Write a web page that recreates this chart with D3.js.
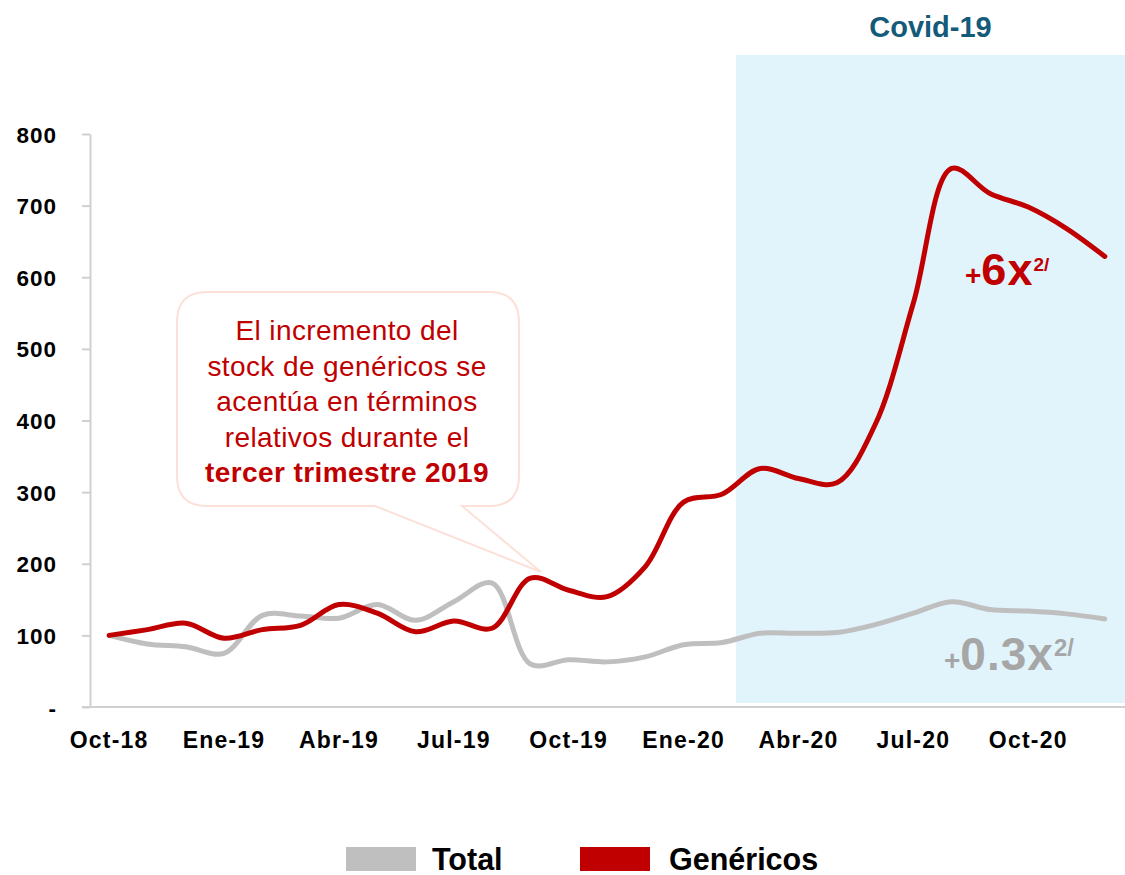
<!DOCTYPE html>
<html>
<head>
<meta charset="utf-8">
<script src="https://cdn.jsdelivr.net/npm/d3@7/dist/d3.min.js"></script>
<style>
  html, body { margin: 0; padding: 0; background: #ffffff; }
  svg { display: block; font-family: "Liberation Sans", Arial, sans-serif; }
</style>
</head>
<body>
<svg id="chart" width="1125" height="875"></svg>
<script>
// ---- data ----
const months = ["Oct-18","Nov-18","Dic-18","Ene-19","Feb-19","Mar-19","Abr-19","May-19","Jun-19",
  "Jul-19","Ago-19","Sep-19","Oct-19","Nov-19","Dic-19","Ene-20","Feb-20","Mar-20","Abr-20",
  "May-20","Jun-20","Jul-20","Ago-20","Sep-20","Oct-20","Nov-20","Dic-20"];
const tickLabels = ["Oct-18","Ene-19","Abr-19","Jul-19","Oct-19","Ene-20","Abr-20","Jul-20","Oct-20"];
const yTicks = [0,100,200,300,400,500,600,700,800];
const totalValues = [100,88,84,75,128,127,124,143,121,147,173,60,66,63,70,87,90,103,103,104,115,131,147,136,134,130,123];
const genericosValues = [100,108,117,96,108,114,143,131,105,120,110,180,163,154,196,286,297,333,319,313,394,564,752,717,698,668,629];
const seriesNames = ["Total","Genéricos"];
const seriesColors = ["#BFBFBF","#C00000"];
const covidStart = "Mar-20";
const calloutLines = ["El incremento del","stock de genéricos se","acentúa en términos","relativos durante el","tercer trimestre 2019"];

// ---- layout ----
const svg = d3.select("#chart");
const x = d3.scaleBand().domain(months).range([90, 1124]).padding(0);
const y = d3.scaleLinear().domain([0, 800]).range([707, 134]);
const cx = m => x(m) + x.bandwidth() / 2;

// Covid shaded region
const shadeX = x(covidStart) - 5;
svg.append("rect")
  .attr("x", shadeX).attr("y", 55)
  .attr("width", 1125 - shadeX).attr("height", 703 - 55)
  .attr("fill", "#E1F4FC");
svg.append("text")
  .attr("x", (shadeX + 1125) / 2).attr("y", 37)
  .attr("text-anchor", "middle")
  .attr("font-size", 29).attr("font-weight", "bold")
  .attr("fill", "#135B79")
  .text("Covid-19");

// Y axis
const yAxis = svg.append("g")
  .attr("transform", "translate(90,0)")
  .call(d3.axisLeft(y).tickValues(yTicks).tickSize(8).tickSizeOuter(0)
    .tickFormat(d => d === 0 ? "-" : d));
yAxis.select(".domain").attr("stroke", "#D0D0D0").attr("stroke-width", 2);
yAxis.selectAll(".tick line").attr("stroke", "#D0D0D0").attr("stroke-width", 2);
yAxis.selectAll(".tick text")
  .attr("x", -33).attr("dy", "0.36em")
  .attr("font-size", 22.5).attr("font-weight", "bold")
  .attr("letter-spacing", 1)
  .attr("font-family", "Liberation Sans, Arial, sans-serif")
  .attr("fill", "#000");

// X axis
const xAxis = svg.append("g")
  .attr("transform", "translate(0,707)")
  .call(d3.axisBottom(x).tickValues(tickLabels).tickSize(0).tickSizeOuter(0));
xAxis.select(".domain").attr("d", "M82,0H1125").attr("stroke", "#D0D0D0").attr("stroke-width", 2);
xAxis.selectAll(".tick text")
  .attr("y", 41).attr("dy", 0)
  .attr("font-size", 23).attr("font-weight", "bold")
  .attr("letter-spacing", 1.2)
  .attr("font-family", "Liberation Sans, Arial, sans-serif")
  .attr("fill", "#000");

// Lines
const line = d3.line()
  .x((d, i) => cx(months[i]))
  .y(d => y(d))
  .curve(d3.curveCatmullRom.alpha(0.5));
[totalValues, genericosValues].forEach((vals, k) => {
  svg.append("path")
    .datum(vals)
    .attr("d", line)
    .attr("fill", "none")
    .attr("stroke", seriesColors[k])
    .attr("stroke-width", 5)
    .attr("stroke-linecap", "round")
    .attr("stroke-linejoin", "round");
});

// Callout bubble
const bx0 = 177, bx1 = 519, by0 = 292, by1 = 506, r = 30;
const tipX = 541, tipY = 572, t0 = 375, t1 = 462;
const bubble = `M${bx0 + r},${by0} H${bx1 - r} Q${bx1},${by0} ${bx1},${by0 + r} V${by1 - r} Q${bx1},${by1} ${bx1 - r},${by1}
  H${t1} L${tipX},${tipY} L${t0},${by1} H${bx0 + r} Q${bx0},${by1} ${bx0},${by1 - r} V${by0 + r} Q${bx0},${by0} ${bx0 + r},${by0} Z`;
svg.append("path").attr("d", bubble)
  .attr("fill", "#ffffff").attr("fill-opacity", 0.9)
  .attr("stroke", "#FCE1DA").attr("stroke-width", 2);
calloutLines.forEach((t, i) => {
  svg.append("text")
    .attr("x", 347).attr("y", 340 + i * 35.5)
    .attr("text-anchor", "middle")
    .attr("font-size", 28)
    .attr("font-weight", i === calloutLines.length - 1 ? "bold" : "normal")
    .attr("letter-spacing", 0.4)
    .attr("fill", "#C00000")
    .text(t);
});

// Growth annotations
function growth(xPos, yPos, plusSize, mainSize, supSize, supDy, color, main) {
  const t = svg.append("text").attr("x", xPos).attr("y", yPos)
    .attr("font-weight", "bold").attr("fill", color);
  t.append("tspan").attr("font-size", plusSize).text("+");
  t.append("tspan").attr("font-size", mainSize).attr("letter-spacing", 1).text(main);
  t.append("tspan").attr("font-size", supSize).attr("dy", supDy).text("2/");
}
growth(965, 285, 28, 45, 19, -14, "#C00000", "6x");
growth(944, 670, 28, 46, 24, -14, "#A6A6A6", "0.3x");

// Legend
const legendItems = [
  { name: seriesNames[0], color: seriesColors[0], rx: 346, tx: 432 },
  { name: seriesNames[1], color: seriesColors[1], rx: 580, tx: 669 }
];
legendItems.forEach(it => {
  svg.append("rect").attr("x", it.rx).attr("y", 847).attr("width", 70).attr("height", 24).attr("fill", it.color);
  svg.append("text").attr("x", it.tx).attr("y", 870)
    .attr("font-size", 30.5).attr("font-weight", "bold").attr("fill", "#000")
    .text(it.name);
});
</script>
</body>
</html>
